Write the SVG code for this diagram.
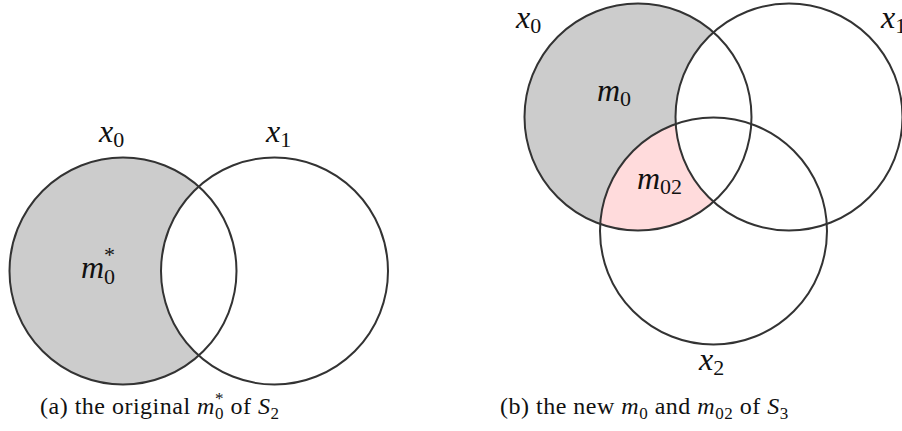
<svg xmlns="http://www.w3.org/2000/svg" width="902" height="431" viewBox="0 0 902 431">
<style>
.c{fill:none;stroke:#333;stroke-width:2}
.lbl{font-family:"Liberation Serif",serif;font-size:32px;fill:#111}
.it{font-style:italic}
.sub{font-size:22px;font-style:normal}
.cap{font-family:"Liberation Serif",serif;font-size:24px;fill:#111;letter-spacing:0.5px}
.csub{font-size:17px;font-style:normal}
</style>
<defs>
<clipPath id="clipX0"><circle cx="638" cy="117" r="113.5"/></clipPath>
</defs>
<rect width="902" height="431" fill="#fff"/>
<!-- left figure -->
<g id="fills-a">
<circle cx="123" cy="271" r="113.5" fill="#cccccc"/>
<circle cx="274.5" cy="271" r="113.5" fill="#fff"/>
</g>
<g id="a-x0"><circle class="c" cx="123" cy="271" r="113.5"/>
<text class="lbl it" x="99" y="142">x<tspan class="sub" dy="5">0</tspan></text></g>
<g id="a-x1"><circle class="c" cx="274.5" cy="271" r="113.5"/>
<text class="lbl it" x="266" y="142">x<tspan class="sub" dy="5">1</tspan></text></g>
<g id="a-m0"><text class="lbl it" x="81" y="278">m<tspan class="sub" dy="6">0</tspan><tspan class="sub" dx="-11" dy="-22">*</tspan></text></g>
<!-- right figure -->
<g id="fills-b">
<circle cx="638" cy="117" r="113.5" fill="#cccccc"/>
<circle cx="713.5" cy="231" r="113.5" fill="#ffdbdc" clip-path="url(#clipX0)"/>
<circle cx="789" cy="117" r="113.5" fill="#fff"/>
</g>
<g id="b-x0"><circle class="c" cx="638" cy="117" r="113.5"/>
<text class="lbl it" x="516" y="28">x<tspan class="sub" dy="5">0</tspan></text></g>
<g id="b-x1"><circle class="c" cx="789" cy="117" r="113.5"/>
<text class="lbl it" x="881" y="28">x<tspan class="sub" dy="5">1</tspan></text></g>
<g id="b-x2"><circle class="c" cx="713.5" cy="231" r="113.5"/>
<text class="lbl it" x="699" y="370">x<tspan class="sub" dy="5">2</tspan></text></g>
<g id="b-m0"><text class="lbl it" x="597" y="101">m<tspan class="sub" dy="5">0</tspan></text></g>
<g id="b-m02"><text class="lbl it" x="637" y="189">m<tspan class="sub" dy="5">02</tspan></text></g>
<!-- captions -->
<g id="cap-a"><text class="cap" x="40" y="414">(a) the original <tspan class="it">m</tspan><tspan class="csub" dy="5">0</tspan><tspan class="csub" dx="-9" dy="-15">*</tspan><tspan dy="10"> of </tspan><tspan class="it">S</tspan><tspan class="csub" dy="5">2</tspan></text></g>
<g id="cap-b"><text class="cap" x="500" y="414">(b) the new <tspan class="it">m</tspan><tspan class="csub" dy="5">0</tspan><tspan dy="-5"> and </tspan><tspan class="it">m</tspan><tspan class="csub" dy="5">02</tspan><tspan dy="-5"> of </tspan><tspan class="it">S</tspan><tspan class="csub" dy="5">3</tspan></text></g>
</svg>
